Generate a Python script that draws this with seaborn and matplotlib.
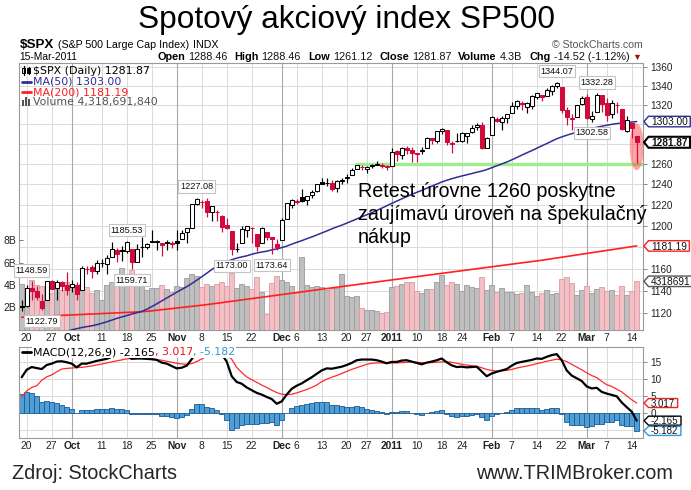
import numpy as np
import pandas as pd
import matplotlib
matplotlib.use("Agg")
import matplotlib.pyplot as plt
import seaborn as sns
from matplotlib.patches import Ellipse, Rectangle, Polygon
from matplotlib.lines import Line2D
from matplotlib.transforms import blended_transform_factory, IdentityTransform
from matplotlib.ticker import NullLocator

# ---------------- data ----------------
trading_days = {
    "2010-09": [17, 20, 21, 22, 23, 24, 27, 28, 29, 30],
    "2010-10": [1, 4, 5, 6, 7, 8, 11, 12, 13, 14, 15, 18, 19, 20, 21, 22, 25, 26, 27, 28, 29],
    "2010-11": [1, 2, 3, 4, 5, 8, 9, 10, 11, 12, 15, 16, 17, 18, 19, 22, 23, 24, 26, 29, 30],
    "2010-12": [1, 2, 3, 6, 7, 8, 9, 10, 13, 14, 15, 16, 17, 20, 21, 22, 23, 27, 28, 29, 30, 31],
    "2011-01": [3, 4, 5, 6, 7, 10, 11, 12, 13, 14, 18, 19, 20, 21, 24, 25, 26, 27, 28, 31],
    "2011-02": [1, 2, 3, 4, 7, 8, 9, 10, 11, 14, 15, 16, 17, 18, 22, 23, 24, 25, 28],
    "2011-03": [1, 2, 3, 4, 7, 8, 9, 10, 11, 14, 15],
}
dates = [f"{m}-{d:02d}" for m, days in trading_days.items() for d in days]

prev_close0 = 1124.66
opens = [1126.4, 1126.6, 1142.8, 1139.5, 1131.1, 1131.7, 1148.6, 1142.3, 1147.7, 1145.0,
         1143.5, 1144.9, 1140.7, 1159.8, 1161.6, 1158.4, 1165.3, 1164.3, 1171.3, 1177.8,
         1177.5, 1176.8, 1178.6, 1166.7, 1179.8, 1180.5, 1184.7, 1184.9, 1183.8, 1184.5,
         1183.9, 1185.7, 1187.9, 1193.8, 1198.3, 1221.2, 1223.2, 1223.6, 1213.1, 1213.0,
         1209.1, 1200.4, 1194.8, 1178.3, 1183.8, 1196.1, 1198.1, 1192.5, 1183.7, 1194.2,
         1189.1, 1182.9, 1186.6, 1206.8, 1219.9, 1223.9, 1227.3, 1225.0, 1230.1, 1233.9,
         1242.5, 1241.8, 1241.6, 1236.3, 1243.6, 1245.8, 1249.4, 1254.9, 1257.5, 1254.7,
         1259.1, 1258.8, 1259.4, 1256.8, 1257.6, 1272.9, 1268.8, 1276.3, 1274.4, 1270.8,
         1272.6, 1275.7, 1285.8, 1282.9, 1293.2, 1294.5, 1280.9, 1283.6, 1283.3, 1288.2,
         1292.0, 1297.5, 1299.6, 1276.5, 1289.1, 1305.9, 1302.8, 1307.0, 1311.9, 1318.8,
         1322.5, 1318.1, 1318.7, 1328.7, 1330.4, 1329.5, 1334.4, 1340.4, 1338.9, 1315.4,
         1307.1, 1307.3, 1321.6, 1328.6, 1305.5, 1312.4, 1330.7, 1322.7, 1311.1, 1319.9,
         1315.7, 1293.4, 1301.2, 1288.46]
highs = [1131.5, 1144.9, 1148.59, 1144.4, 1136.8, 1148.9, 1149.9, 1150.0, 1148.6, 1157.2,
         1150.3, 1148.2, 1162.8, 1162.3, 1163.9, 1167.7, 1168.7, 1172.6, 1184.4, 1178.9,
         1181.2, 1185.53, 1178.6, 1182.9, 1189.4, 1183.9, 1196.1, 1187.1, 1183.8, 1187.1,
         1185.5, 1195.8, 1195.9, 1198.3, 1221.3, 1227.08, 1224.6, 1226.8, 1218.8, 1215.5,
         1210.5, 1207.4, 1194.8, 1183.6, 1200.3, 1200.0, 1198.9, 1192.5, 1198.6, 1194.2,
         1189.1, 1187.4, 1207.6, 1221.9, 1225.6, 1225.8, 1235.1, 1228.9, 1234.7, 1240.4,
         1246.7, 1246.6, 1244.3, 1243.8, 1245.8, 1250.2, 1255.8, 1259.4, 1258.6, 1258.4,
         1259.9, 1262.6, 1261.1, 1259.3, 1276.2, 1274.1, 1277.6, 1278.2, 1276.8, 1271.5,
         1277.3, 1286.9, 1286.7, 1293.3, 1296.1, 1294.6, 1283.4, 1291.2, 1291.9, 1291.3,
         1299.7, 1301.3, 1302.7, 1287.2, 1308.9, 1307.6, 1308.6, 1311.0, 1322.9, 1324.9,
         1324.5, 1322.8, 1330.8, 1333.0, 1330.4, 1337.6, 1341.5, 1344.07, 1338.9, 1317.9,
         1310.9, 1320.6, 1329.4, 1332.1, 1314.2, 1332.28, 1331.1, 1327.7, 1325.7, 1323.2,
         1315.7, 1308.3, 1301.2, 1288.46]
lows = [1122.4, 1125.6, 1131.9, 1131.6, 1122.79, 1131.7, 1142.0, 1132.1, 1140.3, 1136.1,
        1139.4, 1131.9, 1140.7, 1154.9, 1151.4, 1155.6, 1162.0, 1155.7, 1171.3, 1166.7,
        1167.1, 1174.6, 1159.71, 1166.7, 1171.2, 1178.3, 1184.7, 1177.7, 1171.7, 1177.7,
        1179.7, 1177.7, 1187.9, 1183.6, 1198.3, 1220.3, 1217.2, 1208.9, 1204.3, 1204.5,
        1194.1, 1197.2, 1173.00, 1175.9, 1183.8, 1189.4, 1184.3, 1176.9, 1183.7, 1186.9,
        1173.64, 1177.0, 1186.6, 1206.8, 1216.8, 1220.7, 1223.3, 1219.5, 1226.6, 1232.6,
        1240.3, 1238.2, 1234.0, 1232.9, 1239.9, 1241.5, 1249.4, 1254.9, 1254.1, 1251.5,
        1256.2, 1258.8, 1256.3, 1254.2, 1257.6, 1262.7, 1265.4, 1270.4, 1261.7, 1262.2,
        1269.6, 1275.7, 1280.5, 1281.1, 1290.2, 1278.9, 1271.3, 1282.1, 1282.5, 1281.1,
        1291.0, 1294.4, 1275.1, 1276.5, 1289.1, 1302.6, 1294.8, 1301.7, 1311.9, 1316.0,
        1314.9, 1311.7, 1316.1, 1326.9, 1324.6, 1329.5, 1331.0, 1338.1, 1312.3, 1299.6,
        1294.3, 1307.3, 1320.6, 1306.1, 1302.58, 1312.4, 1312.6, 1303.99, 1306.9, 1312.3,
        1294.2, 1292.0, 1286.4, 1261.12]
closes = [1125.59, 1142.71, 1139.78, 1134.28, 1124.83, 1148.67, 1142.16, 1147.70, 1144.73, 1141.20,
          1146.24, 1137.03, 1160.75, 1159.97, 1158.06, 1165.15, 1165.32, 1169.77, 1178.10, 1173.81,
          1176.19, 1184.71, 1165.90, 1178.17, 1180.26, 1183.08, 1185.62, 1185.64, 1182.45, 1183.78,
          1183.26, 1184.38, 1193.57, 1197.96, 1221.06, 1225.85, 1223.25, 1213.40, 1218.71, 1213.54,
          1199.21, 1197.75, 1178.34, 1178.59, 1196.69, 1199.73, 1197.84, 1180.73, 1198.35, 1189.40,
          1187.76, 1180.55, 1206.07, 1221.53, 1224.71, 1223.12, 1223.75, 1228.28, 1233.00, 1240.40,
          1240.46, 1241.59, 1235.23, 1242.87, 1243.91, 1247.08, 1254.60, 1258.84, 1256.77, 1257.54,
          1258.51, 1259.78, 1257.88, 1257.64, 1271.87, 1270.20, 1276.56, 1273.85, 1271.50, 1269.75,
          1274.48, 1285.96, 1283.76, 1293.24, 1295.02, 1281.92, 1280.26, 1283.35, 1290.84, 1291.18,
          1296.63, 1299.54, 1276.34, 1286.12, 1307.59, 1304.03, 1307.10, 1310.87, 1319.05, 1324.57,
          1320.88, 1321.87, 1329.15, 1332.32, 1328.01, 1336.32, 1340.43, 1343.01, 1315.44, 1307.40,
          1306.10, 1319.88, 1327.22, 1306.33, 1308.44, 1330.97, 1321.15, 1310.13, 1321.82, 1320.02,
          1295.11, 1304.28, 1296.39, 1281.87]
volume_b = [4.1, 3.7, 4.4, 4.0, 3.9, 3.9, 3.3, 3.8, 3.5, 4.3,
            3.9, 3.6, 4.1, 3.8, 3.3, 3.5, 2.6, 4.0, 4.3, 4.1,
            5.5, 4.4, 5.3, 4.5, 4.5, 3.5, 3.7, 3.7, 4.0, 3.6,
            3.4, 3.9, 3.8, 4.6, 5.0, 4.8, 3.8, 4.1, 3.9, 4.1,
            4.3, 3.9, 5.1, 3.7, 4.1, 3.9, 3.6, 4.7, 3.4, 1.4,
            4.2, 4.8, 4.4, 4.3, 3.9, 3.3, 6.5, 4.0, 3.8, 3.9,
            3.8, 3.58, 3.76, 3.76, 4.95, 2.98, 2.89, 2.98, 1.97, 1.73,
            1.73, 1.64, 1.46, 1.55, 3.79, 3.88, 4.09, 4.27, 4.27, 3.43,
            3.31, 3.61, 3.67, 4.24, 4.87, 3.97, 4.24, 4.12, 3.43, 3.97,
            3.82, 3.70, 4.72, 3.58, 4.00, 3.40, 3.70, 3.34, 3.34, 3.19,
            3.25, 3.97, 3.40, 3.04, 3.28, 3.52, 3.19, 3.25, 4.48, 4.72,
            4.15, 3.07, 3.52, 3.91, 3.31, 3.61, 3.79, 3.43, 3.52, 3.07,
            3.91, 3.07, 3.49, 4.3187]
ma50 = [1093.0, 1094.0, 1095.0, 1096.0, 1097.0, 1098.2, 1099.5, 1100.8, 1102.2, 1103.8,
        1105.5, 1106.5, 1107.5, 1108.3, 1109.0, 1110.0, 1111.2, 1112.5, 1114.0, 1115.5,
        1116.8, 1118.0, 1119.3, 1120.5, 1121.7, 1123.6, 1125.9, 1128.4, 1131.0, 1133.6,
        1136.2, 1138.8, 1141.3, 1143.8, 1146.6, 1149.6, 1152.8, 1156.0, 1159.3, 1162.4,
        1164.6, 1166.6, 1168.4, 1169.9, 1171.0, 1172.0, 1173.4, 1174.6, 1175.5, 1176.3,
        1177.5, 1178.4, 1179.6, 1181.0, 1182.8, 1184.5, 1186.1, 1187.9, 1189.6, 1191.4,
        1193.3, 1195.2, 1197.2, 1199.0, 1200.7, 1202.6, 1204.6, 1206.6, 1208.6, 1210.6,
        1212.6, 1214.7, 1216.9, 1219.2, 1221.5, 1223.7, 1225.9, 1228.0, 1230.2, 1232.2,
        1234.1, 1236.2, 1238.2, 1240.2, 1242.3, 1244.0, 1245.5, 1246.9, 1248.2, 1249.4,
        1250.6, 1251.9, 1253.0, 1254.5, 1256.4, 1258.3, 1260.1, 1262.0, 1264.2, 1266.5,
        1268.9, 1271.2, 1273.4, 1275.8, 1278.2, 1280.5, 1283.0, 1285.4, 1287.3, 1289.0,
        1290.6, 1292.0, 1293.4, 1294.6, 1295.9, 1297.1, 1298.2, 1299.2, 1300.1, 1300.9,
        1301.5, 1302.0, 1302.5, 1303.00]
ma200 = [1116.6, 1116.8, 1117.0, 1117.2, 1117.4, 1117.6, 1117.8, 1118.0, 1118.2, 1118.4,
         1118.6, 1118.8, 1119.0, 1119.2, 1119.4, 1119.6, 1119.8, 1120.0, 1120.2, 1120.4,
         1120.6, 1120.8, 1121.0, 1121.2, 1121.4, 1121.8, 1122.2, 1122.7, 1123.2, 1123.7,
         1124.2, 1124.7, 1125.2, 1125.7, 1126.2, 1126.7, 1127.2, 1127.7, 1128.3, 1128.9,
         1129.5, 1130.1, 1130.7, 1131.3, 1131.9, 1132.5, 1133.1, 1133.7, 1134.3, 1134.9,
         1135.5, 1136.1, 1136.7, 1137.3, 1137.9, 1138.5, 1139.1, 1139.7, 1140.3, 1140.9,
         1141.5, 1142.1, 1142.7, 1143.3, 1143.9, 1144.5, 1145.1, 1145.7, 1146.3, 1146.9,
         1147.5, 1148.1, 1148.7, 1149.3, 1149.9, 1150.5, 1151.1, 1151.7, 1152.3, 1152.9,
         1153.5, 1154.1, 1154.7, 1155.3, 1155.9, 1156.5, 1157.1, 1157.7, 1158.3, 1158.9,
         1159.5, 1160.1, 1160.7, 1161.3, 1161.9, 1162.5, 1163.1, 1163.7, 1164.3, 1164.9,
         1165.5, 1166.1, 1166.7, 1167.3, 1167.9, 1168.6, 1169.3, 1170.0, 1170.7, 1171.4,
         1172.1, 1172.8, 1173.5, 1174.2, 1174.9, 1175.6, 1176.3, 1177.0, 1177.7, 1178.4,
         1179.1, 1179.8, 1180.5, 1181.19]
macd_line = [10.6, 12.8, 13.6, 13.3, 13.0, 14.2, 14.6, 15.2, 15.3, 15.0,
             14.6, 13.5, 14.6, 14.6, 15.0, 15.4, 15.7, 16.0, 16.6, 16.7,
             16.9, 17.1, 16.0, 16.1, 16.1, 16.0, 15.9, 15.7, 14.9, 14.6,
             13.9, 13.2, 13.4, 14.0, 15.9, 17.8, 18.8, 18.6, 18.8, 18.6,
             17.4, 15.2, 10.9, 9.2, 8.7, 7.6, 6.8, 6.0, 5.5, 4.8,
             4.2, 2.8, 3.5, 5.5, 7.2, 8.1, 8.8, 9.7, 10.6, 11.6,
             12.6, 13.2, 13.1, 13.4, 13.7, 14.2, 14.8, 15.6, 15.8, 15.8,
             15.8, 15.6, 15.2, 14.7, 15.1, 15.1, 15.5, 15.6, 15.2, 14.8,
             14.4, 14.9, 15.2, 15.6, 16.1, 15.0, 14.1, 13.6, 13.7, 13.5,
             13.6, 13.7, 12.3, 10.9, 11.7, 12.2, 12.6, 13.0, 14.0, 14.8,
             15.1, 15.4, 15.7, 16.1, 16.0, 16.6, 17.1, 17.4, 15.6, 12.6,
             11.1, 10.3, 9.5, 7.9, 7.3, 7.5, 6.3, 5.8, 5.4, 5.0,
             3.2, 1.8, 0.5, -2.165]
macd_signal = [4.8, 6.6, 7.6, 8.1, 9.7, 10.7, 11.3, 12.2, 13.0, 13.2,
               13.3, 13.45, 13.5, 13.7, 13.9, 14.2, 14.5, 14.8, 15.1, 15.4,
               15.7, 16.0, 16.1, 16.2, 16.2, 16.1, 16.0, 15.8, 15.6, 15.3,
               15.0, 14.7, 14.5, 14.4, 14.6, 15.2, 16.0, 16.7, 17.2, 17.5,
               17.5, 17.1, 15.9, 13.5, 12.0, 10.7, 9.9, 9.1, 8.3, 7.6,
               6.8, 6.1, 5.6, 5.5, 5.6, 6.0, 6.5, 7.0, 7.6, 8.3,
               9.3, 10.0, 10.6, 11.1, 11.7, 12.3, 12.9, 13.4, 13.9, 14.4,
               14.7, 14.8, 14.8, 14.8, 14.8, 14.8, 14.9, 15.0, 15.1, 15.0,
               14.9, 14.9, 14.9, 15.0, 15.1, 15.1, 15.0, 14.7, 14.4, 14.2,
               14.0, 13.8, 13.4, 12.9, 12.6, 12.4, 12.5, 12.6, 12.9, 13.3,
               13.6, 13.9, 14.2, 14.6, 14.9, 15.3, 15.6, 15.9, 15.7, 15.2,
               14.4, 13.6, 12.8, 11.9, 11.1, 10.5, 9.4, 8.4, 7.9, 7.1,
               6.3, 5.1, 4.0, 3.017]
macd_hist = [5.8, 6.2, 6.0, 5.2, 3.3, 3.5, 3.3, 3.0, 2.3, 1.8,
             1.3, 0.05, 1.1, 0.9, 1.1, 1.2, 1.2, 1.2, 1.5, 1.3,
             1.2, 1.1, -0.1, -0.1, -0.1, -0.1, -0.1, -0.1, -0.7, -0.7,
             -1.1, -1.5, -1.1, -0.4, 1.3, 2.6, 2.8, 1.9, 1.6, 1.1,
             -0.1, -1.9, -5.0, -4.3, -3.3, -3.1, -3.1, -3.1, -2.8, -2.8,
             -2.6, -3.3, -2.1, 0.0, 1.6, 2.1, 2.3, 2.7, 3.0, 3.3,
             3.3, 3.2, 2.5, 2.3, 2.0, 1.9, 1.9, 2.2, 1.9, 1.4,
             1.1, 0.8, 0.4, -0.1, 0.3, 0.3, 0.6, 0.6, 0.1, -0.2,
             -0.5, 0.0, 0.3, 0.6, 1.0, -0.1, -0.9, -1.1, -0.7, -0.7,
             -0.4, -0.1, -1.1, -2.0, -0.9, -0.2, 0.1, 0.4, 1.1, 1.5,
             1.5, 1.5, 1.5, 1.5, 1.1, 1.3, 1.5, 1.5, -0.1, -2.6,
             -3.3, -3.3, -3.3, -4.0, -3.8, -3.0, -3.1, -2.6, -2.6, -2.1,
             -3.5, -3.8, -3.8, -5.182]

tick_dates = ["2010-09-20", "2010-09-27", "2010-10-01", "2010-10-11", "2010-10-18", "2010-10-25",
              "2010-11-01", "2010-11-08", "2010-11-15", "2010-11-22", "2010-12-01", "2010-12-06",
              "2010-12-13", "2010-12-20", "2010-12-27", "2011-01-03", "2011-01-10", "2011-01-18",
              "2011-01-24", "2011-02-01", "2011-02-07", "2011-02-14", "2011-02-22", "2011-03-01",
              "2011-03-07", "2011-03-14"]
tick_labels = ["20", "27", "Oct", "11", "18", "25", "Nov", "8", "15", "22", "Dec", "6", "13",
               "20", "27", "2011", "10", "18", "24", "Feb", "7", "14", "22", "Mar", "7", "14"]
month_labels = ["Oct", "Nov", "Dec", "2011", "Feb", "Mar"]
price_ticks = [1120, 1140, 1160, 1180, 1200, 1220, 1240, 1260, 1280, 1300, 1320, 1340, 1360]
price_hidden = [1180, 1280, 1300]          # covered by the value boxes in the reference
volume_ticks = [2, 4, 6, 8]
macd_ticks = [-5, 0, 5, 10, 15]
macd_hidden = [-5]

callout_dates = ["2010-09-21", "2010-09-23", "2010-10-18", "2010-10-19", "2010-11-05",
                 "2010-11-16", "2010-11-29", "2011-02-18", "2011-03-02", "2011-03-03"]
callout_kind = ["high", "low", "high", "low", "high", "low", "low", "high", "low", "high"]

support_level = 1260
support_from = "2010-12-22"
highlight_hi, highlight_lo = 1301, 1254

ma50_last, ma200_last, volume_last = 1303.00, 1181.19, 4318691840
macd_vals = (-2.165, 3.017, -5.182)

comment_lines = ["Retest úrovne 1260 poskytne", "zaujímavú úroveň na špekulačný", "nákup"]

# ---------------- styling ----------------
W, H = 691, 490
sns.set_theme(style="white")
plt.rcParams['font.family'] = ['Liberation Sans', 'DejaVu Sans']

RED = '#d20a3c'
NAVY = '#2e2e96'
MA_RED = '#ff1f1f'
GRID = '#dadada'
MGRID = '#a8a8a8'
SPINE = '#9a9a9a'

df = pd.DataFrame({"date": dates, "open": opens, "high": highs, "low": lows, "close": closes,
                   "volume": volume_b, "ma50": ma50, "ma200": ma200,
                   "macd": macd_line, "signal": macd_signal, "hist": macd_hist})
df["i"] = np.arange(len(df))
prev = np.r_[prev_close0, df["close"].values[:-1]]
df["down"] = df["close"].values < prev

tick_pos = [dates.index(d) for d in tick_dates]
month_pos = [p for p, l in zip(tick_pos, tick_labels) if l in month_labels]
XL = (-0.54, len(dates) - 1 + 1.26)
YL = (1105.8, 1364.3)
VL = (0, 23.85)
ML = (-7.35, 19.4)

fig = plt.figure(figsize=(W / 100, H / 100), dpi=100)
fig.patch.set_facecolor('white')


def rect(l, t, r, b):
    return [l / W, 1 - b / H, (r - l) / W, (b - t) / H]


MAIN = rect(19, 63.3, 643, 329.5)
MACD = rect(19, 347.3, 643, 438.3)

ax_bg = fig.add_axes(MAIN)
ax_vol = fig.add_axes(MAIN)
ax = fig.add_axes(MAIN)
ax_m = fig.add_axes(MACD)


def style_grid_axes(a, yt, hidden, ylim, yscale='linear'):
    a.set_yscale(yscale)
    a.set_xlim(*XL)
    a.set_ylim(*ylim)
    a.set_yticks(yt)
    a.set_yticklabels(['' if v in hidden else str(v) for v in yt])
    a.yaxis.set_minor_locator(NullLocator())
    a.yaxis.tick_right()
    a.set_xticks(tick_pos)
    a.set_xticklabels(tick_labels)
    for t in a.get_xticklabels():
        if t.get_text() in month_labels:
            t.set_fontweight('bold')
    a.tick_params(axis='x', length=0, pad=2.2, labelsize=7.4, colors='#222222')
    a.tick_params(axis='y', length=3, width=0.7, color='#888888', pad=2.5, labelsize=7.2,
                  labelcolor='#222222')
    a.grid(True, color=GRID, lw=0.7)
    a.set_axisbelow(True)
    for p in month_pos:
        a.axvline(p, color=MGRID, lw=0.8, zorder=0.6)
    for s in a.spines.values():
        s.set_color(SPINE)
        s.set_linewidth(0.8)
    a.set_xlabel('')
    a.set_ylabel('')


style_grid_axes(ax_bg, price_ticks, price_hidden, YL, 'log')

# ---- volume ----
ax_vol.set_xlim(*XL)
ax_vol.set_ylim(*VL)
ax_vol.patch.set_visible(False)
vol_face = np.where(df["down"], '#f2c0c5', '#bfbfbf')
vol_edge = np.where(df["down"], '#dc9aa3', '#9c9c9c')
ax_vol.bar(df["i"], df["volume"], width=1.0, color=vol_face, edgecolor=vol_edge, linewidth=0.6, zorder=2)
ax_vol.set_yticks(volume_ticks)
ax_vol.set_yticklabels([f"{v}B" for v in volume_ticks])
ax_vol.set_xticks([])
ax_vol.tick_params(axis='y', left=True, direction='in', length=3, width=0.7, color='#777777', pad=2,
                   labelsize=7.5, labelcolor='#222222')
for s in ax_vol.spines.values():
    s.set_visible(False)

# ---- price panel ----
ax.set_yscale('log')
ax.set_xlim(*XL)
ax.set_ylim(*YL)
ax.set_axis_off()

ax.hlines(support_level, dates.index(support_from) - 0.3, XL[1], color='#9cef8c', lw=2.4, zorder=1.5)

sns.lineplot(x=df["i"], y=df["ma200"], ax=ax, color=MA_RED, lw=1.2, zorder=2)
sns.lineplot(x=df["i"], y=df["ma50"], ax=ax, color=NAVY, lw=1.1, zorder=2)

edge = np.where(df["down"], RED, 'black')
hollow = df["close"].values > df["open"].values
face = np.where(hollow, 'white', edge)
ax.vlines(df["i"], df["low"], df["high"], colors=edge, lw=0.85, zorder=3)
ax.bar(df["i"], np.abs(df["close"] - df["open"]), bottom=np.minimum(df["open"], df["close"]),
       width=0.74, color=face, edgecolor=edge, linewidth=0.75, zorder=4)

ax.set_xlim(*XL)
ax.set_ylim(*YL)
ax.set_xlabel('')
ax.set_ylabel('')

# callouts
for d, k in zip(callout_dates, callout_kind):
    i = dates.index(d)
    v = highs[i] if k == "high" else lows[i]
    ax.annotate(f"{v:.2f}", xy=(i, v), xytext=(0, 11 if k == "high" else -11),
                textcoords='offset pixels', ha='center', va='center', fontsize=6.6,
                color='#111111', zorder=6,
                bbox=dict(boxstyle='square,pad=0.18', fc='white', ec='#c4c4c4', lw=0.8))

# ---- MACD panel ----
style_grid_axes(ax_m, macd_ticks, macd_hidden, ML)
ax_m.bar(df["i"], df["hist"], width=1.0, color='#4f9fd6', edgecolor='#1c5a92', linewidth=0.6, zorder=2)
sns.lineplot(x=df["i"], y=df["signal"], ax=ax_m, color='#ff2a2a', lw=0.9, zorder=3)
sns.lineplot(x=df["i"], y=df["macd"], ax=ax_m, color='black', lw=1.6, zorder=4)
ax_m.set_xlim(*XL)
ax_m.set_ylim(*ML)
ax_m.set_xlabel('')
ax_m.set_ylabel('')

fig.canvas.draw()
renderer = fig.canvas.get_renderer()


# ---- value boxes at right edge (pentagon pointing left) ----
def value_box(a, y, text, ec, bold=False, lw=1.0, size=7.3, box_h=10.5):
    tr = blended_transform_factory(a.transAxes, a.transData)
    x_edge, y_disp = tr.transform((1.0, y))
    cap = 0.716 * size * 100 / 72
    t = fig.text((x_edge + 8) / W, (y_disp - cap / 2) / H, text, ha='left', va='baseline',
                 fontsize=size, fontweight='bold' if bold else 'normal', color='#111111', zorder=11)
    bb = t.get_window_extent(renderer)
    x0, x1 = bb.x0 - 2.5, bb.x1 + 2.5
    y0, y1 = y_disp - box_h / 2, y_disp + box_h / 2
    poly = Polygon([(x0, y0), (x1, y0), (x1, y1), (x0, y1), (x_edge + 1, y_disp)], closed=True,
                   transform=IdentityTransform(), fc='white', ec=ec, lw=lw, zorder=10)
    fig.add_artist(poly)


value_box(ax, ma50_last, f"{ma50_last:.2f}", NAVY)
value_box(ax, closes[-1], f"{closes[-1]:.2f}", 'black', bold=True, lw=1.5, box_h=11)
value_box(ax, ma200_last, f"{ma200_last:.2f}", MA_RED)
value_box(ax_vol, volume_last / 1e9, f"{volume_last // 1000:d}", '#555555')
value_box(ax_m, macd_vals[1], f"{macd_vals[1]:.3f}", '#ee2222', size=7.0, box_h=9)
value_box(ax_m, macd_vals[0], f"{macd_vals[0]:.3f}", 'black', size=7.0, box_h=9)
value_box(ax_m, macd_vals[2], f"{macd_vals[2]:.3f}", '#3399dd', size=7.0, box_h=9)

# ---- highlight ellipse around last candle ----
xc, yh = ax.transData.transform((df["i"].iloc[-1], highlight_hi))
_, yl = ax.transData.transform((df["i"].iloc[-1], highlight_lo))
ax.add_patch(Ellipse((xc, (yh + yl) / 2), width=14, height=(yh - yl), transform=IdentityTransform(),
                     fc='#ff4a4a', alpha=0.5, ec='none', zorder=2.5))


# ---- texts ----
def seq_text(y_px, pieces, x_left=None, x_right=None, family=None, bg=None):
    texts, widths = [], []
    for txt, size, color, weight, gap in pieces:
        kw = dict(fontsize=size, color=color, fontweight=weight, va='center', ha='left', zorder=6)
        if family:
            kw['family'] = family
        if bg:
            kw['bbox'] = dict(boxstyle='square,pad=0.08', fc=bg, ec='none')
        t = fig.text(0, 1 - y_px / H, txt, **kw)
        texts.append(t)
        widths.append(t.get_window_extent(renderer).width + gap)
    total = sum(widths) - pieces[-1][4]
    x = x_left if x_left is not None else x_right - total
    for t, w in zip(texts, widths):
        t.set_x(x / W)
        x += w


fig.text(346 / W, 1 - 20 / H, "Spotový akciový index SP500", ha='center', va='center',
         fontsize=22.8, color='black')

seq_text(45.5, [("$SPX", 9.6, 'black', 'bold', 4),
                ("(S&P 500 Large Cap Index)", 7.7, 'black', 'normal', 4),
                ("INDX", 7.7, 'black', 'normal', 0)], x_left=19.5)
fig.text(643 / W, 1 - 45 / H, "© StockCharts.com", ha='right', va='center', fontsize=7.6,
         color='#555555')
seq_text(57, [("15-Mar-2011", 7.4, 'black', 'normal', 0)], x_left=19.5)
HS = 7.8
hdr = [("Open", HS, 'black', 'bold', 3), (f"{opens[-1]:.2f}", HS, '#111', 'normal', 7),
       ("High", HS, 'black', 'bold', 3), (f"{highs[-1]:.2f}", HS, '#111', 'normal', 7),
       ("Low", HS, 'black', 'bold', 3), (f"{lows[-1]:.2f}", HS, '#111', 'normal', 7),
       ("Close", HS, 'black', 'bold', 3), (f"{closes[-1]:.2f}", HS, '#111', 'normal', 7),
       ("Volume", HS, 'black', 'bold', 3), ("4.3B", HS, '#111', 'normal', 7),
       ("Chg", HS, 'black', 'bold', 3), ("-14.52 (-1.12%)", HS, '#111', 'normal', 3),
       ("▼", 6.5, '#a01010', 'normal', 0)]
seq_text(57, hdr, x_right=641)

# legend inside price panel
LEG = ['DejaVu Sans']
seq_text(70.7, [(f"$SPX (Daily) {closes[-1]:.2f}", 7.9, 'black', 'normal', 0)], x_left=33, family=LEG)
seq_text(81.7, [(f"MA(50) {ma50_last:.2f}", 7.9, NAVY, 'normal', 0)], x_left=33, family=LEG)
seq_text(92.3, [(f"MA(200) {ma200_last:.2f}", 7.9, MA_RED, 'normal', 0)], x_left=33, family=LEG)
seq_text(102.3, [(f"Volume {volume_last:,}", 7.9, '#555555', 'normal', 0)], x_left=33, family=LEG)
# legend icons
fig.add_artist(Line2D([22 / W, 31 / W], [1 - 81.7 / H] * 2, color=NAVY, lw=2))
fig.add_artist(Line2D([22 / W, 31 / W], [1 - 92.3 / H] * 2, color=MA_RED, lw=2))
for k, hgt in enumerate([6, 9, 7]):
    fig.add_artist(Rectangle(((22 + 3 * k) / W, 1 - 106 / H), 2.2 / W, hgt / H, fc='#555555', ec='none'))
for k, (lo_, hi_) in enumerate([(66, 75), (67, 74)]):
    xk = (23.5 + 5 * k) / W
    fig.add_artist(Line2D([xk, xk], [1 - hi_ / H, 1 - lo_ / H], color='black', lw=0.9))
    fig.add_artist(Rectangle(((22.3 + 5 * k) / W, 1 - 73 / H), 2.4 / W, 5 / H,
                             fc='white' if k == 0 else 'black', ec='black', lw=0.7))

# MACD legend
fig.add_artist(Line2D([22 / W, 31 / W], [1 - 352.3 / H] * 2, color='black', lw=2, zorder=7))
seq_text(352.3, [(f"MACD(12,26,9) {macd_vals[0]:.3f}", 7.9, 'black', 'normal', 0),
                 (f", {macd_vals[1]:.3f}", 7.9, '#ee1111', 'normal', 0),
                 (f", {macd_vals[2]:.3f}", 7.9, '#3399cc', 'normal', 0)],
         x_left=33, family=LEG, bg='white')

# commentary (one text per line, baselines)
for k, line in enumerate(comment_lines):
    fig.text(358 / W, 1 - (196.5 + 23.3 * k) / H, line, ha='left', va='baseline',
             fontsize=14.2, color='black')

# footer
fig.text(12 / W, 1 - 473 / H, "Zdroj: StockCharts", ha='left', va='center', fontsize=14.3)
fig.text(673 / W, 1 - 473 / H, "www.TRIMBroker.com", ha='right', va='center', fontsize=14.3)

fig.savefig("out.png", dpi=100, facecolor='white')
